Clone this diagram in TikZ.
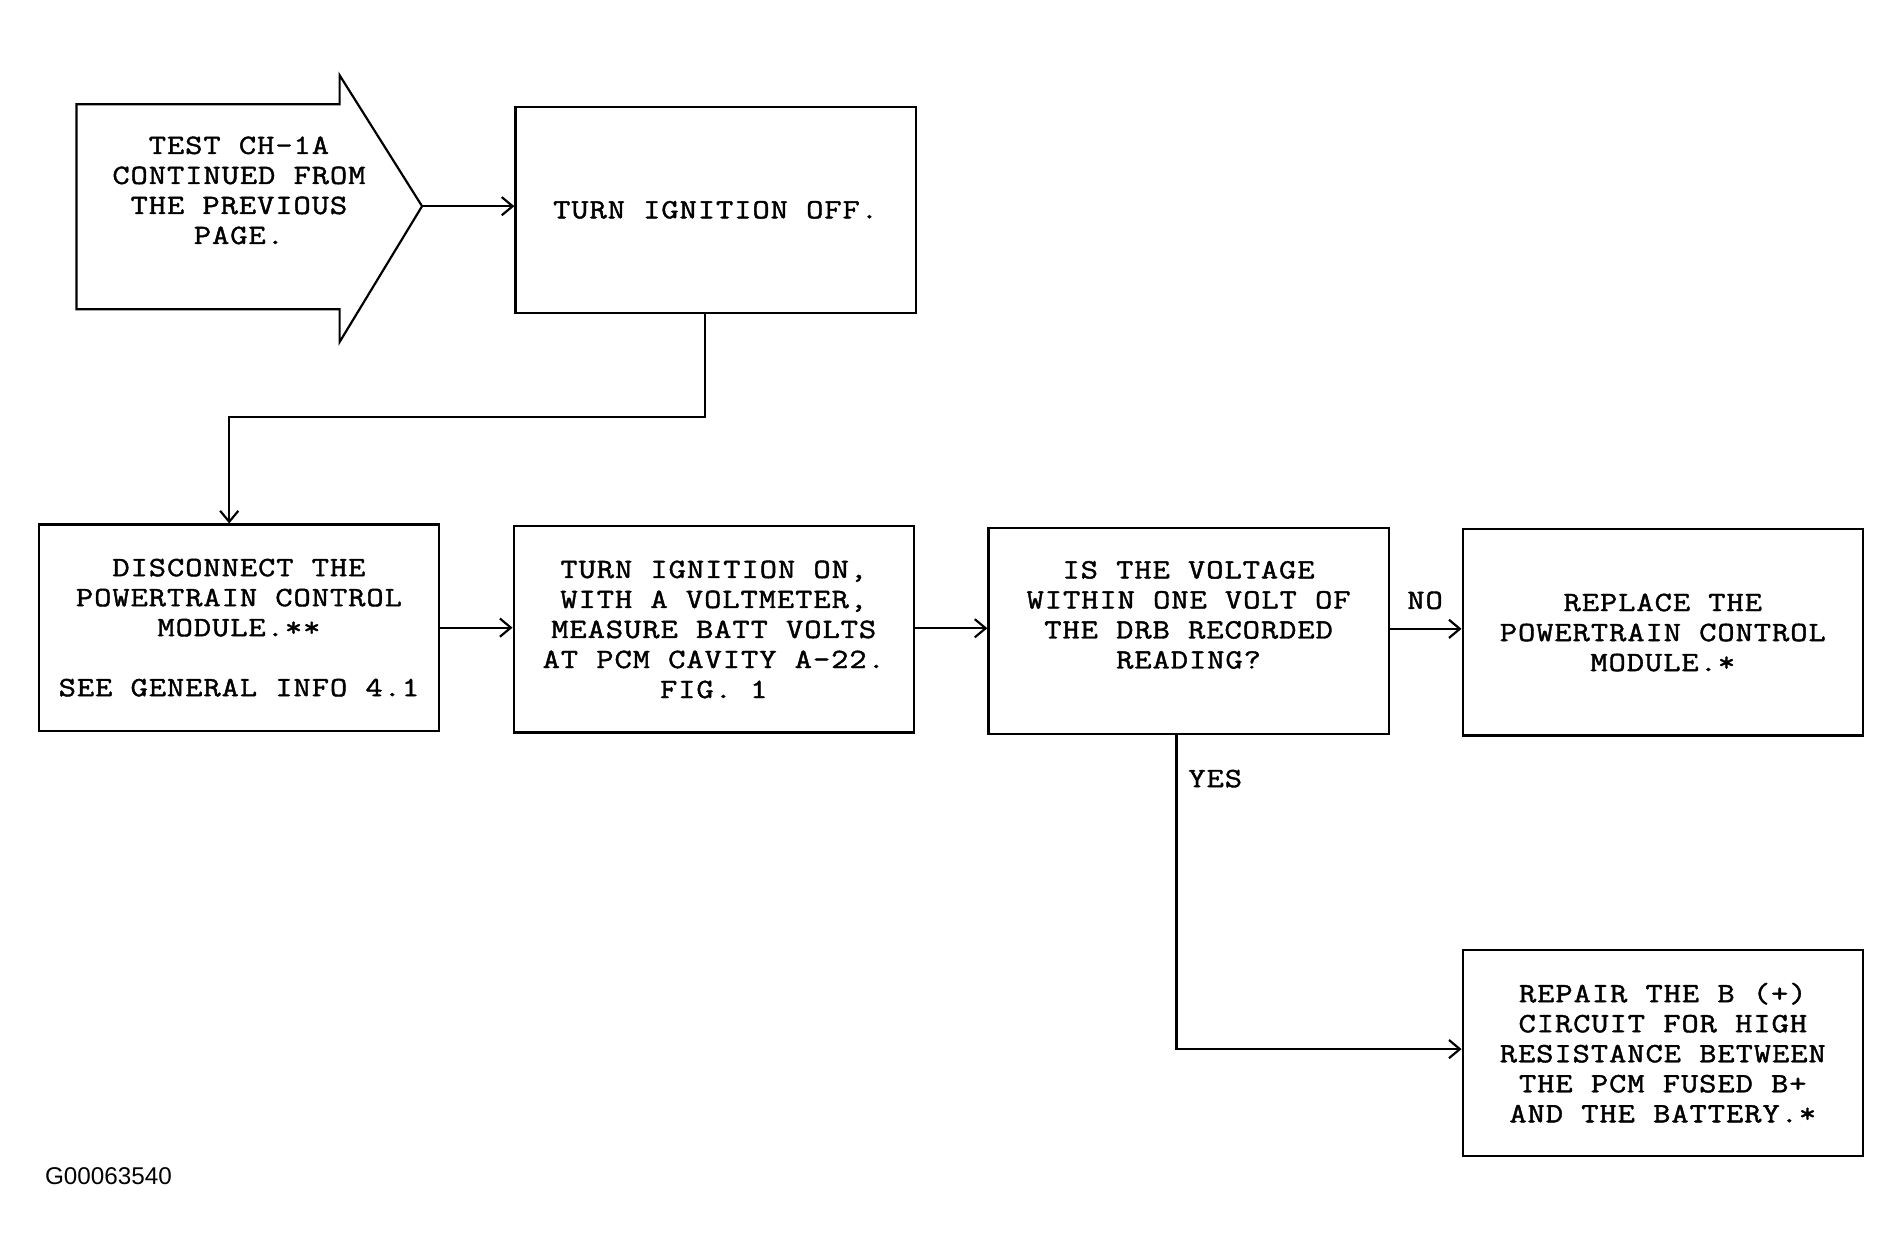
\documentclass[tikz,border=0pt]{standalone}
\usepackage{fontspec}
\newfontfamily\courf{Latin Modern Mono}[FakeStretch=1.2, LetterSpace=3.5, FakeBold=1.5]
\newfontfamily\labf{Liberation Sans}
\usetikzlibrary{arrows.meta}
\tikzset{
  boxst/.style={draw=black, line width=1.8pt, minimum width=330pt, minimum height=170pt, inner sep=0pt, align=center, font=\courf\fontsize{23}{24.75}\selectfont},
  txt/.style={inner sep=0pt, align=center, font=\courf\fontsize{23}{24.75}\selectfont},
  conn/.style={line width=1.8pt, -{Straight Barb[length=9pt,width=15pt]}},
  plain/.style={line width=1.8pt}
}
\begin{document}
\begin{tikzpicture}[x=1pt,y=-1pt]
\useasboundingbox[fill=white] (0,0) rectangle (1560,1034);
% start arrow shape
\draw[plain, line join=miter] (63,86) -- (280,86) -- (280,62) -- (348,170) -- (280,282) -- (280,255) -- (63,255) -- cycle;
\coordinate (tip) at (348,170);
\node[txt] (st) at (197,157) {TEST CH-1A\\CONTINUED FROM\\THE PREVIOUS\\PAGE.};
% boxes
\node[boxst] (b1) at (590,173) {TURN IGNITION OFF.};
\node[boxst] (b2) at (197,517.5) {DISCONNECT THE\\POWERTRAIN CONTROL\\MODULE.**\\[24.75pt]SEE GENERAL INFO 4.1};
\node[boxst] (b3) at (588.5,519) {TURN IGNITION ON,\\WITH A VOLTMETER,\\MEASURE BATT VOLTS\\AT PCM CAVITY A-22.\\FIG. 1};
\node[boxst] (q) at (980,520.5) {};
\node[txt] (qt) at (980,507) {IS THE VOLTAGE\\WITHIN ONE VOLT OF\\THE DRB RECORDED\\READING?};
\node[boxst] (b5) at (1371,521.5) {REPLACE THE\\POWERTRAIN CONTROL\\MODULE.*};
\node[boxst] (b6) at (1371,868) {REPAIR THE B (+)\\CIRCUIT FOR HIGH\\RESISTANCE BETWEEN\\THE PCM FUSED B+\\AND THE BATTERY.*};
% connectors
\draw[conn] (tip) -- (tip -| b1.west);
\draw[conn] ([xshift=-9pt]b1.south) -- ++(0,85) -| ([xshift=-8pt]b2.north);
\draw[conn] (b2.east) -- (b2.east -| b3.west);
\draw[conn] ([yshift=1pt]b3.east) -- ([yshift=1pt]b3.east -| q.west);
\draw[conn] ([yshift=2pt]q.east) -- ([yshift=2pt]q.east -| b5.west);
\draw[conn] ([xshift=-10pt]q.south) |- ([yshift=3pt]b6.west);
% labels
\node[txt] (no) at (1175,495) {NO};
\node[txt] (yes) at (1002,642) {YES};
\node[anchor=base west, inner sep=0pt, font=\labf\fontsize{20}{24}\selectfont] (gid) at (37,977) {G00063540};
\end{tikzpicture}
\end{document}
